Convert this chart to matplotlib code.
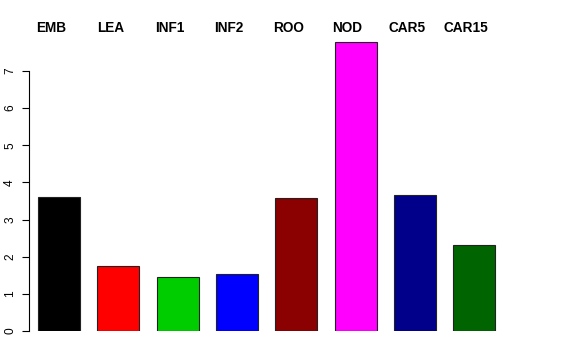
import matplotlib
matplotlib.use("Agg")
import matplotlib.pyplot as plt
import matplotlib.transforms as mtransforms
import numpy as np

# --- dados ---
categorias = ["EMB", "LEA", "INF1", "INF2", "ROO", "NOD", "CAR5", "CAR15"]
valores = [3.62, 1.74, 1.45, 1.54, 3.57, 7.78, 3.66, 2.31]
cores = ["#000000", "#FF0000", "#00CD00", "#0000FF", "#8B0000", "#FF00FF", "#00008B", "#006400"]
yticks = [0, 1, 2, 3, 4, 5, 6, 7]

plt.rcParams['font.family'] = ['Liberation Sans', 'DejaVu Sans']

W, H = 576, 360
fig = plt.figure(figsize=(W / 100, H / 100), dpi=100)
# região do gráfico em pixels: esquerda 29, direita 530, base 331, topo 35
ax = fig.add_axes([29 / W, (H - 331) / H, (530 - 29) / W, (331 - 35) / H])

x = np.arange(len(categorias))
ax.bar(x, valores, width=0.708, color=cores, edgecolor="#222222", linewidth=0.8)

ax.set_xlim(-0.506, 7.94)
ax.set_ylim(0, 7.97)

# eixo no estilo do R: só a linha da esquerda, de 0 a 7
for s in ["top", "right", "bottom"]:
    ax.spines[s].set_visible(False)
ax.spines["left"].set_bounds(0, 7)
ax.spines["left"].set_linewidth(0.8)
ax.set_xticks([])
ax.set_yticks(yticks)
ax.set_yticklabels([str(t) for t in yticks], rotation=90, va="center")
ax.tick_params(axis="y", length=5, width=0.8, pad=4.3, labelsize=8.6)

# rótulos das categorias no topo
trans = mtransforms.blended_transform_factory(ax.transData, fig.transFigure)
for i, nome in enumerate(categorias):
    ax.text(x[i] - 0.135, (H - 28) / H, nome, transform=trans,
            ha="center", va="center", fontsize=9.8, fontweight="bold")

fig.savefig("out.png", dpi=100)
